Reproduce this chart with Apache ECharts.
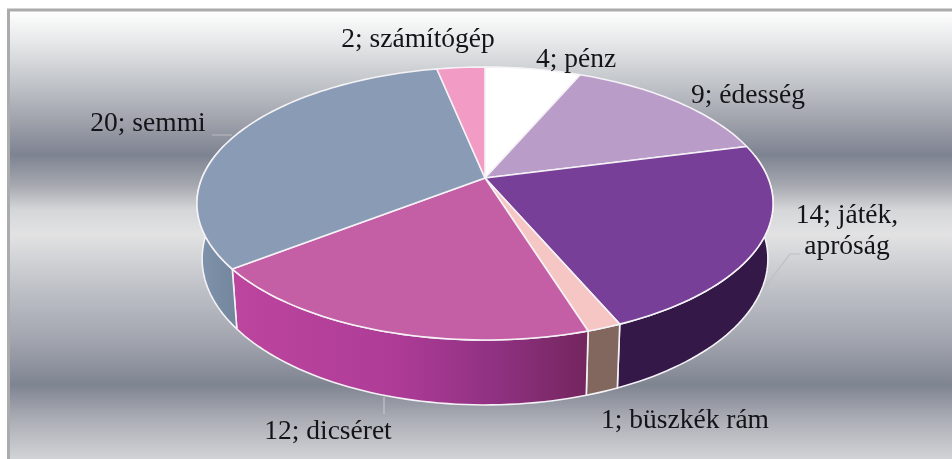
<!DOCTYPE html>
<html><head><meta charset="utf-8">
<style>html,body{margin:0;padding:0;background:#fff}#c{width:952px;height:459px}</style>
<script src="https://cdn.jsdelivr.net/npm/echarts@6/dist/echarts.min.js"></script>
</head><body><div id="c"></div>
<script>
const categories = ['pénz','édesség','játék,\napróság','büszkék rám','dicséret','semmi','számítógép'];
const values = [4,9,14,1,12,20,2];
const topColors = ['#FFFFFF','#BA9CC9','#773F97','#F6C6C4','#C55FA5','#8A9CB5','#F29BC4'];
const labelBoxes = [[576,60],[748,96],[847,231],[685,421],[328,432],[148,124],[418,40]];

const total = values.reduce((a,b)=>a+b,0);
const P = 0.187, A = 283, B = 131.7, CX = 485, CY = 178;
const BS = 0.982, BY = 1.07, BCY = 231.6;
function proj(deg, bottom){
  const t = deg*Math.PI/180, u = Math.sin(t), v = -Math.cos(t), w = 1 - P*v;
  return bottom ? [CX + BS*A*u/w, BCY + BY*B*v/w] : [CX + A*u/w, CY + B*v/w];
}
function arc(a,b,bottom){
  const n = Math.max(2,Math.ceil(Math.abs(b-a)/1.5)), r=[];
  for(let i=0;i<=n;i++) r.push(proj(a+(b-a)*i/n,bottom));
  return r;
}
function range(i){
  let s=0; for(let k=0;k<i;k++) s+=values[k];
  return [s/total*360,(s+values[i])/total*360];
}
const lg=(stops,x0,x1)=>new echarts.graphic.LinearGradient(x0,0,x1,0,stops,true);
function wallStyle(i){
  if(i===2) return '#341848';
  if(i===3) return '#82675F';
  if(i===4) return lg([{offset:0,color:'#BC459E'},{offset:.45,color:'#AE3C97'},{offset:.75,color:'#8F3181'},{offset:1,color:'#74265F'}],236,585);
  if(i===5) return lg([{offset:0,color:'#7F93AC'},{offset:1,color:'#72859B'}],200,238);
  return null;
}
const chart = echarts.init(document.getElementById('c'),null,{renderer:'canvas'});
const stroke='#F5F2F6';
chart.setOption({
  animation:false,
  graphic:[
    {type:'rect',z:0,shape:{x:9,y:10,width:943,height:449},
     style:{fill:new echarts.graphic.LinearGradient(0,0,0,1,[
      {offset:0,color:'#FFFFFF'},
      {offset:.067,color:'#E8E9EA'},
      {offset:.134,color:'#CDD0D3'},
      {offset:.245,color:'#A0A3AC'},
      {offset:.323,color:'#7E8391'},
      {offset:.39,color:'#A5A8AF'},
      {offset:.445,color:'#D5D6D8'},
      {offset:.50,color:'#E2E2E3'},
      {offset:.624,color:'#BDC0C6'},
      {offset:.735,color:'#A2A5AF'},
      {offset:.835,color:'#7F8491'},
      {offset:.913,color:'#ACAEB6'},
      {offset:1,color:'#D2D3D6'}
     ])}},
    {type:'polyline',z:1,shape:{points:[[8.5,459],[8.5,10],[952,10]]},style:{stroke:'#ABABAE',lineWidth:3,fill:null}},
    {type:'polyline',z:1,shape:{points:[[212,135],[232,135]]},style:{stroke:'#B9BBBF',lineWidth:1,fill:null}},
    {type:'polyline',z:1,shape:{points:[[757,298],[790,254],[800,254]]},style:{stroke:'#BDBFC2',lineWidth:1.2,fill:null}},
    {type:'polyline',z:1,shape:{points:[[384,397],[384,414]]},style:{stroke:'#C4C6CA',lineWidth:1.2,fill:null}}
  ],
  series:[
    {type:'custom',coordinateSystem:'none',z:2,data:values,
     renderItem:(p,api)=>{
       const i=p.dataIndex; if(!wallStyle(i)) return {type:'group',children:[]};
       const [a,b]=range(i);
       const a2=Math.max(a,80), b2=Math.min(b,285);
       const pts=arc(a2,b2,false).concat(arc(a2,b2,true).reverse());
       return {type:'polygon',shape:{points:pts},style:{fill:wallStyle(i),stroke:stroke,lineWidth:1.6,lineJoin:'round'}};
     }},
    {type:'custom',coordinateSystem:'none',z:3,data:values,
     renderItem:(p,api)=>{
       const i=p.dataIndex;const [a,b]=range(i);
       const pts=[[CX,CY]].concat(arc(a,b,false));
       return {type:'polygon',shape:{points:pts},style:{fill:topColors[i],stroke:stroke,lineWidth:1.6,lineJoin:'round'}};
     }},
    {type:'custom',coordinateSystem:'none',z:4,data:values,
     renderItem:(p,api)=>{
       const i=p.dataIndex;
       return {type:'text',style:{x:labelBoxes[i][0],y:labelBoxes[i][1],text:values[i]+'; '+categories[i],
         fill:'#141418',font:'27.5px "Liberation Serif"',align:'center',verticalAlign:'middle',lineHeight:31}};
     }}
  ]
});
</script></body></html>
